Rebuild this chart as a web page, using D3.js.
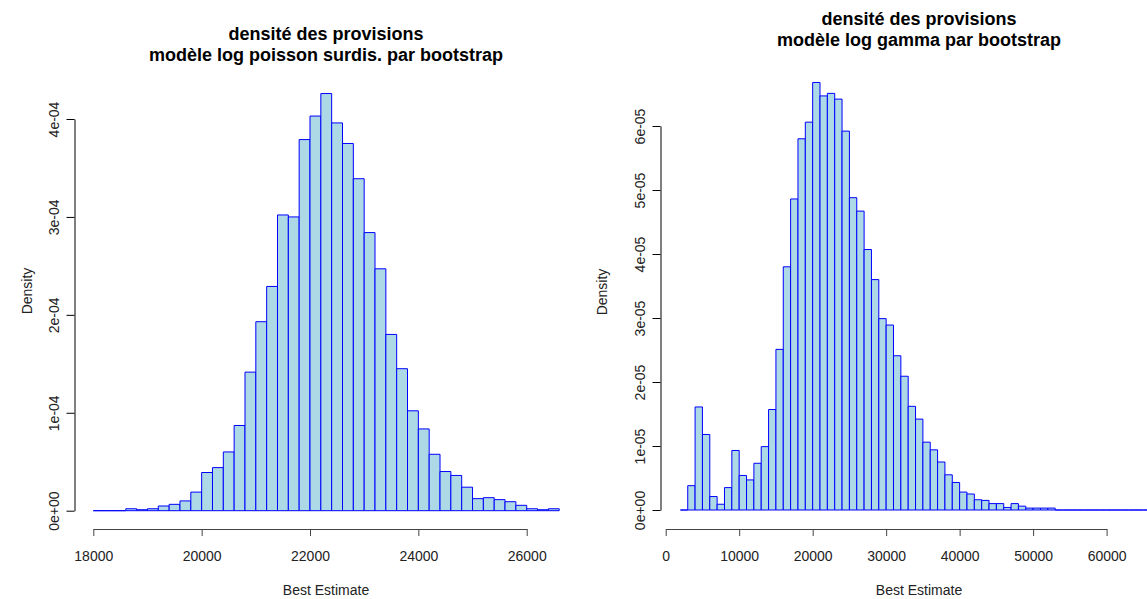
<!DOCTYPE html>
<html>
<head>
<meta charset="utf-8">
<script src="https://cdn.jsdelivr.net/npm/d3@7"></script>
<style>
  html, body { margin: 0; padding: 0; background: #fff; }
  svg { display: block; font-family: "Liberation Sans", Arial, sans-serif; }
</style>
</head>
<body>
<svg id="chart" width="1147" height="599"></svg>
<script>
// ---------- data ----------
const leftTitle = ["densité des provisions", "modèle log poisson surdis. par bootstrap"];
const rightTitle = ["densité des provisions", "modèle log gamma par bootstrap"];
const xLabel = "Best Estimate";
const yLabel = "Density";

// left histogram: bins of width 200 from 18000 to 26600
const leftBreaks = d3.range(18000, 26600 + 1, 200);
const leftDensity = [
  0, 0, 0, 2e-6, 1e-6, 2e-6, 4.8e-6, 6.5e-6, 1.0e-5, 1.9e-5,
  3.9e-5, 4.4e-5, 6.0e-5, 8.7e-5, 1.415e-4, 1.93e-4, 2.29e-4, 3.02e-4, 3.0e-4, 3.79e-4,
  4.03e-4, 4.26e-4, 3.96e-4, 3.75e-4, 3.39e-4, 2.84e-4, 2.47e-4, 1.80e-4, 1.45e-4, 1.02e-4,
  8.35e-5, 5.76e-5, 4.0e-5, 3.6e-5, 2.4e-5, 1.23e-5, 1.33e-5, 1.13e-5, 9.2e-6, 5.5e-6,
  2e-6, 1e-6, 2e-6
];
const leftXTicks = [18000, 20000, 22000, 24000, 26000];
const leftYTicks = [0, 1e-4, 2e-4, 3e-4, 4e-4];
const leftYTickLabels = ["0e+00", "1e-04", "2e-04", "3e-04", "4e-04"];

// right histogram: bins of width 1000 from 2000 to 67000
const rightBreaks = d3.range(2000, 67000 + 1, 1000);
const rightDensity = [
  0, 3.8e-6, 1.61e-5, 1.18e-5, 2.1e-6, 0.9e-6, 3.5e-6, 9.3e-6, 5.4e-6, 4.7e-6,
  7.3e-6, 9.9e-6, 1.57e-5, 2.51e-5, 3.80e-5, 4.86e-5, 5.80e-5, 6.06e-5, 6.68e-5, 6.47e-5,
  6.51e-5, 6.42e-5, 5.92e-5, 4.88e-5, 4.67e-5, 4.07e-5, 3.60e-5, 2.99e-5, 2.89e-5, 2.41e-5,
  2.09e-5, 1.62e-5, 1.42e-5, 1.06e-5, 9.4e-6, 7.5e-6, 5.5e-6, 4.3e-6, 2.8e-6, 2.5e-6,
  1.6e-6, 1.5e-6, 1.0e-6, 1.0e-6, 0.4e-6, 1.0e-6, 0.6e-6, 0.3e-6, 0.3e-6, 0.3e-6,
  0.3e-6, 0, 0, 0, 0, 0, 0, 0, 0, 0,
  0, 0, 0, 0, 0
];
const rightXTicks = [0, 10000, 20000, 30000, 40000, 50000, 60000];
const rightYTicks = [0, 1e-5, 2e-5, 3e-5, 4e-5, 5e-5, 6e-5];
const rightYTickLabels = ["0e+00", "1e-05", "2e-05", "3e-05", "4e-05", "5e-05", "6e-05"];

// ---------- drawing ----------
const svg = d3.select("#chart");

function panel(cfg) {
  const x = d3.scaleLinear().domain(cfg.xDomain).range(cfg.xRange);
  const y = d3.scaleLinear().domain(cfg.yDomain).range(cfg.yRange);
  const g = svg.append("g");

  const bins = cfg.density.map((d, i) => ({ x0: cfg.breaks[i], x1: cfg.breaks[i + 1], d }));
  g.append("g").selectAll("path").data(bins).join("path")
    .attr("d", b => {
      const p = d3.path();
      p.rect(x(b.x0), y(b.d), x(b.x1) - x(b.x0), y(0) - y(b.d));
      return p.toString();
    })
    .attr("fill", "#ADD8E6")
    .attr("stroke", "#0000FF")
    .attr("stroke-width", 1);

  // y axis
  const yAxis = d3.axisLeft(y).tickValues(cfg.yTicks)
    .tickFormat((d, i) => cfg.yTickLabels[i]).tickSize(8).tickSizeOuter(0);
  const ya = g.append("g").attr("transform", `translate(${cfg.yAxisX},0)`).call(yAxis);
  ya.select(".domain").attr("stroke", "#000");
  ya.selectAll(".tick line").attr("stroke", "#000");
  ya.selectAll(".tick text")
    .attr("transform", "rotate(-90)")
    .attr("x", 0).attr("y", -16).attr("dy", 0)
    .attr("text-anchor", "middle")
    .attr("fill", "#222")
    .style("font-size", "14px")
    .style("font-family", "Liberation Sans, Arial, sans-serif");

  // x axis
  const xAxis = d3.axisBottom(x).tickValues(cfg.xTicks).tickFormat(d3.format("d"))
    .tickSize(7).tickSizeOuter(0);
  const xa = g.append("g").attr("transform", `translate(0,${cfg.xAxisY})`).call(xAxis);
  xa.select(".domain").attr("stroke", "#444");
  xa.selectAll(".tick line").attr("stroke", "#444");
  xa.selectAll(".tick text")
    .attr("y", 32).attr("dy", 0)
    .attr("fill", "#222")
    .style("font-size", "14px")
    .style("font-family", "Liberation Sans, Arial, sans-serif");

  // axis titles
  g.append("text")
    .attr("x", cfg.titleX).attr("y", 595)
    .attr("text-anchor", "middle").attr("fill", "#222")
    .style("font-size", "14px")
    .text(xLabel);
  g.append("text")
    .attr("transform", `translate(${cfg.yLabelX},${cfg.yLabelY}) rotate(-90)`)
    .attr("text-anchor", "middle").attr("fill", "#222")
    .style("font-size", "14px")
    .text(yLabel);

  // main title
  cfg.title.forEach((t, i) => {
    g.append("text")
      .attr("x", cfg.titleX).attr("y", cfg.titleY + i * 21)
      .attr("text-anchor", "middle").attr("fill", "#000")
      .style("font-size", "18px").style("font-weight", "bold")
      .text(t);
  });
}

panel({
  breaks: leftBreaks, density: leftDensity,
  xDomain: [18000, 26000], xRange: [93.3, 526.7],
  yDomain: [0, 4e-4], yRange: [510.7, 119],
  xTicks: leftXTicks, yTicks: leftYTicks, yTickLabels: leftYTickLabels,
  yAxisX: 74.5, xAxisY: 529,
  titleX: 326, titleY: 40, title: leftTitle,
  yLabelX: 32, yLabelY: 291
});

panel({
  breaks: rightBreaks, density: rightDensity,
  xDomain: [0, 60000], xRange: [665.7, 1106.6],
  yDomain: [0, 6e-5], yRange: [510, 126],
  xTicks: rightXTicks, yTicks: rightYTicks, yTickLabels: rightYTickLabels,
  yAxisX: 660.5, xAxisY: 529,
  titleX: 919, titleY: 25, title: rightTitle,
  yLabelX: 607, yLabelY: 292
});
</script>
</body>
</html>
